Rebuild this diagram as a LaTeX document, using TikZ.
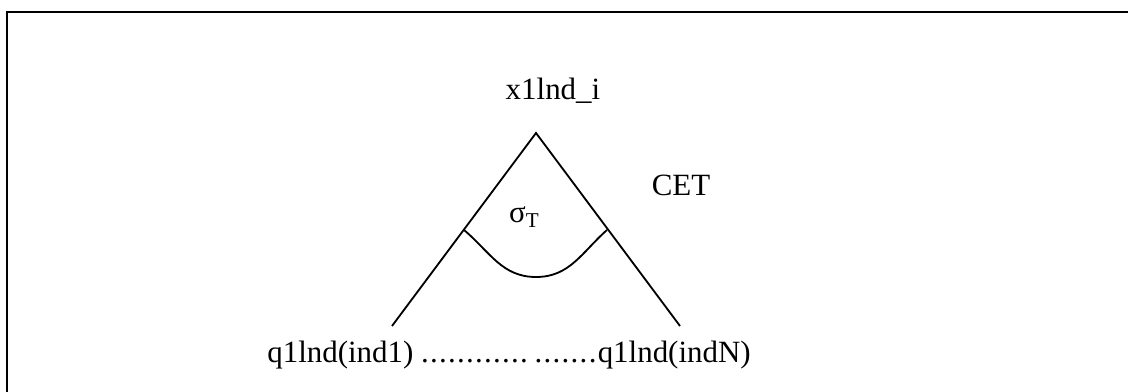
\documentclass[tikz,border=0pt]{standalone}
\usepackage{fontspec}
\setmainfont{Liberation Serif}
\usetikzlibrary{positioning}
\tikzset{
    tree edge/.style = {draw, line width=1.3pt},
    frame edge/.style = {draw, line width=2pt},
    word/.style = {inner sep=0pt, font=\fontsize{22}{26}\selectfont},
}
\newcommand{\sigT}{σ\raisebox{-0.35ex}{\fontsize{15}{18}\selectfont T}}
\newcommand{\dotrun}[1]{\foreach \k in {1,...,#1}{.\kern0.9pt}}

\begin{document}
\begin{tikzpicture}[x=0.025cm, y=-0.025cm]
    \useasboundingbox (0,0) rectangle (1128,392);
    \draw[frame edge] (7,392) -- (7,12) -- (1128,12);

    \node[word, anchor=base] (root) at (553,100) {x1lnd\_i};
    \node[word, anchor=base] (cet) at (681,196) {CET};
    \node[word, anchor=base] (sigma) at (524,223) {\sigT};
    \node[word, anchor=base] (leaves) at (509,362)
        {q1lnd(ind1) \dotrun{12}\hspace{4pt}\dotrun{7}q1lnd(indN)};

    \coordinate (apex) at (536,133);
    \coordinate (lfoot) at (392,326);
    \coordinate (rfoot) at (680,326);
    \coordinate (lcut) at (464,230);
    \coordinate (rcut) at (607,230);
    \coordinate (bottom) at (536,277);

    \draw[tree edge] (lfoot) -- (apex) -- (rfoot);
    \draw[tree edge] (lcut) .. controls (490,252) and (502,277) .. (bottom)
        .. controls (570,277) and (582,252) .. (rcut);
\end{tikzpicture}
\end{document}
